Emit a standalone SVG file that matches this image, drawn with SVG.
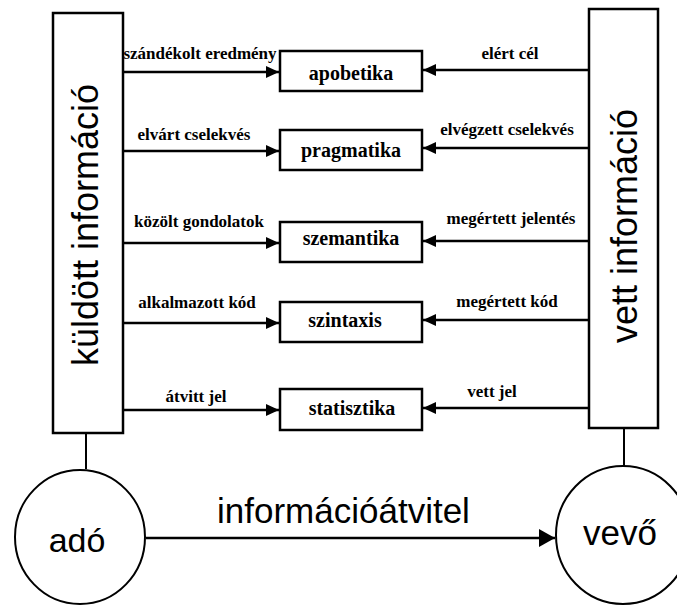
<svg xmlns="http://www.w3.org/2000/svg" width="677" height="605" viewBox="0 0 677 605">
<style>
.box{fill:#fff;stroke:#000;stroke-width:2.5}
.ln{stroke:#000;stroke-width:2.5;fill:none}
.thin{stroke:#000;stroke-width:2;fill:none}
.el{font-family:"Liberation Serif","Times New Roman",serif;font-weight:bold;font-size:17px;fill:#000}
.bl{font-family:"Liberation Serif","Times New Roman",serif;font-weight:bold;font-size:20px;fill:#000;text-anchor:middle}
.big{font-family:"Liberation Sans",Arial,sans-serif;font-size:36px;fill:#000;text-anchor:middle}
.mid{text-anchor:middle}
</style>
<defs>
<marker id="ah" markerUnits="userSpaceOnUse" markerWidth="14" markerHeight="14" refX="13" refY="6" orient="auto">
<path d="M0,0 L13,6 L0,12 Z" fill="#000"/>
</marker>
<marker id="ahb" markerUnits="userSpaceOnUse" markerWidth="18" markerHeight="20" refX="16" refY="9" orient="auto">
<path d="M0,0 L16,9 L0,18 Z" fill="#000"/>
</marker>
</defs>
<rect width="677" height="605" fill="#fff"/>

<g id="connectors">
<line class="ln" x1="123" y1="72" x2="279" y2="72" marker-end="url(#ah)"/>
<line class="ln" x1="123" y1="151" x2="279" y2="151" marker-end="url(#ah)"/>
<line class="ln" x1="123" y1="243" x2="279" y2="243" marker-end="url(#ah)"/>
<line class="ln" x1="123" y1="323" x2="279" y2="323" marker-end="url(#ah)"/>
<line class="ln" x1="123" y1="410" x2="279" y2="410" marker-end="url(#ah)"/>
<line class="ln" x1="589" y1="70" x2="423" y2="70" marker-end="url(#ah)"/>
<line class="ln" x1="589" y1="148" x2="423" y2="148" marker-end="url(#ah)"/>
<line class="ln" x1="589" y1="241" x2="423" y2="241" marker-end="url(#ah)"/>
<line class="ln" x1="589" y1="320" x2="423" y2="320" marker-end="url(#ah)"/>
<line class="ln" x1="589" y1="408" x2="423" y2="408" marker-end="url(#ah)"/>
<line class="thin" x1="86" y1="433" x2="86" y2="469"/>
<line class="thin" x1="624" y1="428" x2="624" y2="466"/>
<line class="ln" x1="146" y1="538" x2="555" y2="538" marker-end="url(#ahb)"/>
<text class="el mid" x="200" y="59">szándékolt eredmény</text>
<text class="el mid" x="194" y="140">elvárt cselekvés</text>
<text class="el mid" x="199" y="227">közölt gondolatok</text>
<text class="el mid" x="197" y="308">alkalmazott kód</text>
<text class="el mid" x="196" y="402">átvitt jel</text>
<text class="el mid" x="510" y="59">elért cél</text>
<text class="el mid" x="507" y="135">elvégzett cselekvés</text>
<text class="el mid" x="511" y="224">megértett jelentés</text>
<text class="el mid" x="507" y="307">megértett kód</text>
<text class="el mid" x="492" y="397">vett jel</text>
<text x="217" y="523" font-family="Liberation Sans, Arial, sans-serif" font-size="35" fill="#000">információátvitel</text>
</g>

<g id="kuldott">
<rect class="box" x="53" y="13" width="70" height="420"/>
<text class="big" transform="translate(98,225) rotate(-90)">küldött információ</text>
</g>
<g id="vett">
<rect class="box" x="589" y="9" width="69" height="419"/>
<text class="big" transform="translate(637,226) rotate(-90)">vett információ</text>
</g>

<g id="apobetika"><rect class="box" x="280" y="51" width="142" height="40"/><text class="bl" x="351" y="80">apobetika</text></g>
<g id="pragmatika"><rect class="box" x="280" y="130" width="142" height="40"/><text class="bl" x="351" y="157">pragmatika</text></g>
<g id="szemantika"><rect class="box" x="280" y="222" width="142" height="40"/><text class="bl" x="351" y="245">szemantika</text></g>
<g id="szintaxis"><rect class="box" x="280" y="302" width="142" height="40"/><text class="bl" x="345" y="327">szintaxis</text></g>
<g id="statisztika"><rect class="box" x="280" y="389" width="142" height="41"/><text class="bl" x="352" y="415">statisztika</text></g>

<g id="ado">
<ellipse cx="80" cy="537" rx="65" ry="67" fill="#fff" stroke="#000" stroke-width="2"/>
<text x="77" y="552" font-family="Liberation Sans, Arial, sans-serif" font-size="34" fill="#000" text-anchor="middle">adó</text>
</g>
<g id="vevo">
<ellipse cx="623" cy="535" rx="67" ry="69" fill="#fff" stroke="#000" stroke-width="2"/>
<text x="620" y="545" font-family="Liberation Sans, Arial, sans-serif" font-size="35" fill="#000" text-anchor="middle">vevő</text>
</g>
</svg>
